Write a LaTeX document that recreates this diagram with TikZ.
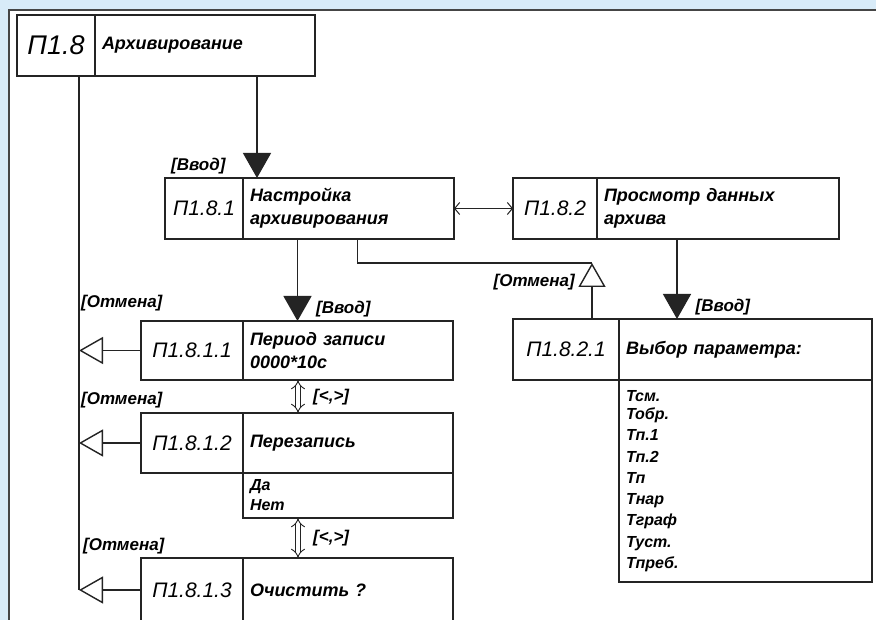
\documentclass[tikz,border=0pt]{standalone}
\usepackage{fontspec}
\setmainfont{Liberation Sans}
\usetikzlibrary{arrows.meta, positioning}
\definecolor{scrblue}{HTML}{D8EBF8}
\definecolor{ink}{HTML}{242424}
\tikzstyle{idcell} = [rectangle, draw=ink, line width=1.4pt, minimum height=61pt,
  inner sep=0pt, outer sep=0pt, anchor=north west, font=\itshape\fontsize{21}{21}\selectfont]
\tikzstyle{txtcell} = [rectangle, draw=ink, line width=1.4pt, minimum height=61pt,
  inner xsep=7pt, inner ysep=0pt, outer sep=0pt, align=left,
  font=\bfseries\itshape\fontsize{18}{23}\selectfont]
\tikzstyle{listcell} = [txtcell, font=\bfseries\itshape\fontsize{16}{21.3}\selectfont]
\tikzstyle{lbl} = [inner sep=1pt, font=\bfseries\itshape\fontsize{17}{17}\selectfont]
\tikzstyle{wire} = [draw=ink, line width=1.4pt]
\tikzstyle{enter} = [wire, -{Triangle[length=25pt, width=28pt]}]
\tikzstyle{back} = [wire, -{Triangle[open, length=24pt, width=27pt]}]
\tikzstyle{swap} = [draw=ink, line width=1pt,
  {Straight Barb[length=5pt, width=12pt]}-{Straight Barb[length=5pt, width=12pt]}]
\tikzstyle{flip} = [draw=ink, line width=0.9pt, double=white, double distance=4pt,
  {Implies}-{Implies}]

\begin{document}
\begin{tikzpicture}[x=1pt, y=-1pt]
    \useasboundingbox (0,0) rectangle (876,620);
    \clip (0,0) rectangle (876,620);
    \fill[scrblue] (0,0) rectangle (876,620);
    \fill[white] (9,10) rectangle (876,620);
    \draw[ink!85, line width=2pt] (9,620) -- (9,10) -- (876,10);

    % menu boxes
    \node[idcell, minimum width=78pt, font=\itshape\fontsize{27}{27}\selectfont] (p18) at (17,15) {П1.8};
    \node[txtcell, text width=206pt, right=0pt of p18] (p18t) {Архивирование\\[6pt]};

    \node[idcell, minimum width=78pt] (p181) at (165,178) {П1.8.1};
    \node[txtcell, text width=197pt, right=0pt of p181] (p181t) {Настройка\\архивирования};

    \node[idcell, minimum width=84pt] (p182) at (513,178) {П1.8.2};
    \node[txtcell, text width=228pt, right=0pt of p182] (p182t) {Просмотр данных\\архива};

    \node[idcell, minimum width=106pt] (p1821) at (513,319) {П1.8.2.1};
    \node[txtcell, text width=239pt, right=0pt of p1821] (p1821t) {Выбор параметра:};
    \node[listcell, text width=239pt, minimum height=202pt, below=0pt of p1821t] (p1821l)
      {Тсм.\\[-3pt]Тобр.\\Тп.1\\Тп.2\\Тп\\Тнар\\Тграф\\Туст.\\Тпреб.};

    \node[idcell, minimum width=102pt, minimum height=59pt] (p1811) at (141,321) {П1.8.1.1};
    \node[txtcell, text width=196pt, minimum height=59pt, right=0pt of p1811] (p1811t) {Период записи\\0000*10с};

    \node[idcell, minimum width=102pt, minimum height=60pt] (p1812) at (141,413) {П1.8.1.2};
    \node[txtcell, text width=196pt, minimum height=60pt, right=0pt of p1812] (p1812t) {Перезапись};
    \node[listcell, text width=196pt, minimum height=45pt, below=0pt of p1812t,
      font=\bfseries\itshape\fontsize{16}{20}\selectfont] (p1812l) {Да\\Нет};

    \node[idcell, minimum width=102pt, minimum height=64pt] (p1813) at (141,558) {П1.8.1.3};
    \node[txtcell, text width=196pt, minimum height=64pt, right=0pt of p1813] (p1813t) {Очистить ?};

    % transitions
    \coordinate (trunk) at ([xshift=23pt]p18.south);
    \coordinate (bend) at ([xshift=26pt, yshift=56pt]p1821.north);
    \draw[wire] (trunk) -- (trunk |- p1813.west);
    \foreach \n in {p1811, p1812, p1813}
      \draw[back] (\n.west) -- (\n.west -| trunk);

    \draw[enter] ([xshift=52pt]p18t.south) -- ([xshift=52pt]p18t.south |- p181t.north);
    \draw[enter] ([xshift=-51pt]p181t.south) -- ([xshift=-51pt]p181t.south |- p1811t.north);
    \draw[enter] ([xshift=-41pt]p182t.south) -- ([xshift=-41pt]p182t.south |- p1821t.north);
    \draw[swap] (p181t.east) -- (p182.west);
    \draw[wire] ([xshift=9pt]p181t.south) |- (bend);
    \draw[back] ([xshift=26pt]p1821.north) -- (bend);
    \draw[flip] ([xshift=-50pt]p1811t.south) -- ([xshift=-50pt]p1812t.north);
    \draw[flip] ([xshift=-50pt]p1812l.south) -- ([xshift=-50pt]p1813t.north);

    % labels
    \node[lbl, anchor=south west] (l1) at ([xshift=5pt, yshift=3pt]p181.north west) {[Ввод]};
    \node[lbl, anchor=south west] (l2) at ([xshift=-33pt, yshift=3pt]p1811t.north) {[Ввод]};
    \node[lbl, anchor=south west] (l3) at ([xshift=-51pt, yshift=3pt]p1821t.north) {[Ввод]};
    \node[lbl, anchor=east] (l4) at ([xshift=10pt, yshift=37pt]p1821.north) {[Отмена]};
    \node[lbl, anchor=west] (l5) at ([xshift=1pt, yshift=18pt]trunk |- p1811.north) {[Отмена]};
    \node[lbl, anchor=west] (l6) at ([xshift=1pt, yshift=13pt]trunk |- p1812.north) {[Отмена]};
    \node[lbl, anchor=west] (l7) at ([xshift=3pt, yshift=12pt]trunk |- p1813.north) {[Отмена]};
    \node[lbl, anchor=west] (l8) at ([xshift=-36pt, yshift=-17pt]p1811t.south) {[<,>]};
    \node[lbl, anchor=west] (l9) at ([xshift=-36pt, yshift=-20pt]p1812l.south) {[<,>]};
  \end{tikzpicture}
\end{document}
